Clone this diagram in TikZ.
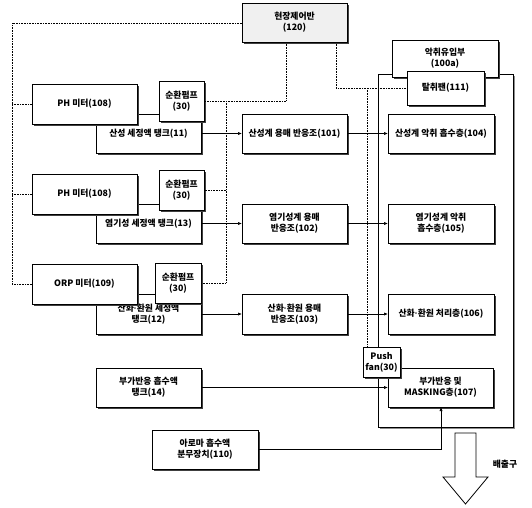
\documentclass[tikz,border=0pt]{standalone}
\usepackage{fontspec}
\setmainfont{Noto Sans CJK KR}
\newfontfamily\dotfont{Liberation Sans}
\newcommand{\mdt}{{\dotfont\bfseries ·}}
\usetikzlibrary{shadows,arrows.meta}
\begin{document}
\begin{tikzpicture}[x=1pt,y=-1pt,
  font=\fontsize{8.8}{10.8}\selectfont\bfseries,
  box/.style={draw=black,line width=0.8pt,fill=white,align=center,inner sep=1pt,outer sep=0pt,
    drop shadow={shadow xshift=2pt,shadow yshift=-2pt,fill=black!75,opacity=1}},
  dots/.style={densely dotted,line width=0.6pt},
  arr/.style={line width=0.7pt,-{Latex[length=4pt,width=3.2pt]}}]
\useasboundingbox (0,0) rectangle (532,507);

% enclosure
\node[box,drop shadow={shadow xshift=1.5pt,shadow yshift=-1.5pt,fill=black!45,opacity=1},minimum width=135pt,minimum height=353pt] (encl) at (445.5,250.5) {};
\node[box,minimum width=106pt,minimum height=37pt] (inlet) at (445,58.5) {악취유입부\\(100a)};
\node[box,minimum width=77pt,minimum height=34pt] (fan) at (445.5,88) {탈취팬(111)};

% control panel
\node[box,fill=black!6,minimum width=105pt,minimum height=39pt] (ctrl) at (294.5,22.5) {현장제어반\\(120)};

% row 1
\node[box,minimum width=105pt,minimum height=39pt] (tank11) at (148.5,133.5) {산성 세정액 탱크(11)};
\node[box,minimum width=105pt,minimum height=40pt] (ph1) at (84.5,104) {PH 미터(108)};
\node[box,minimum width=45pt,minimum height=40pt] (pump1) at (181.5,101) {순환펌프\\(30)};
\node[box,minimum width=105pt,minimum height=39pt] (r101) at (294.5,133.5) {산성계 용매 반응조(101)};
\node[box,minimum width=106pt,minimum height=39pt] (a104) at (441,133.5) {산성계 악취 흡수층(104)};

% row 2
\node[box,minimum width=105pt,minimum height=39pt] (tank13) at (148.5,223.5) {염기성 세정액 탱크(13)};
\node[box,minimum width=105pt,minimum height=40pt] (ph2) at (84.5,194) {PH 미터(108)};
\node[box,minimum width=45pt,minimum height=40pt] (pump2) at (181.5,190) {순환펌프\\(30)};
\node[box,minimum width=105pt,minimum height=39pt] (r102) at (294.5,223.5) {염기성계 용매\\반응조(102)};
\node[box,minimum width=106pt,minimum height=39pt] (a105) at (441,223.5) {염기성계 악취\\흡수층(105)};

% row 3
\node[box,minimum width=105pt,minimum height=40pt] (tank12) at (148.5,314) {산화\mdt 환원 세정액\\탱크(12)};
\node[box,minimum width=105pt,minimum height=40pt] (orp) at (84.5,284) {ORP 미터(109)};
\node[box,minimum width=46pt,minimum height=40pt] (pump3) at (178,283) {순환펌프\\(30)};
\node[box,minimum width=105pt,minimum height=40pt] (r103) at (294.5,314) {산화\mdt 환원 용매\\반응조(103)};
\node[box,minimum width=106pt,minimum height=40pt] (a106) at (441,314) {산화\mdt 환원 처리층(106)};

% row 4
\node[box,minimum width=105pt,minimum height=39pt] (tank14) at (148.5,387.5) {부가반응 흡수액\\탱크(14)};
\node[box,minimum width=105pt,minimum height=39pt] (m107) at (440.5,387.5) {부가반응 및\\MASKING층(107)};
\node[box,minimum width=37pt,minimum height=30pt] (push) at (381.5,362) {Push\\fan(30)};
\node[box,minimum width=106pt,minimum height=39pt] (aroma) at (205,449.5) {아로마 흡수액\\분무장치(110)};

% dotted control lines
\coordinate (dl) at (12,23);
\coordinate (d1) at (286,42);
\coordinate (d1b) at (286,101);
\coordinate (d2) at (336,42);
\coordinate (d2b) at (336,88);
\coordinate (vx) at (226,101);
\coordinate (vy) at (367,88);
\draw[dots] (ctrl.west |- dl) -- (dl) -- (dl |- orp.west) -- (orp.west);
\draw[dots] (dl |- ph1.west) -- (ph1.west);
\draw[dots] (dl |- ph2.west) -- (ph2.west);
\draw[dots] (d1) -- (d1b) -- (pump1.east);
\draw[dots] (vx) -- (vx |- pump3.east) -- (pump3.east);
\draw[dots] (vx |- pump2.east) -- (pump2.east);
\draw[dots] (d2) -- (d2b) -- (fan.west);
\draw[dots] (vy) -- (vy |- push.north);

% flow arrows
\draw[arr] (tank11.east) -- (r101.west);
\draw[arr] (r101.east) -- (a104.west);
\draw[arr] (tank13.east) -- (r102.west);
\draw[arr] (r102.east) -- (a105.west);
\draw[arr] (tank12.east) -- (r103.west);
\draw[arr] (r103.east) -- (a106.west);
\draw[arr] (tank14.east) -- (m107.west);
\coordinate (ac) at (441,449.5);
\draw[arr] (aroma.east) -- (ac) -- (ac |- m107.south);

% outlet arrow
\draw[line width=0.8pt,fill=white] (455,433) -- (476,433) -- (476,477) -- (488,477) -- (465.5,504) -- (443,477) -- (455,477) -- cycle;
\node (out) at (505,464) {배출구};
\end{tikzpicture}
\end{document}
